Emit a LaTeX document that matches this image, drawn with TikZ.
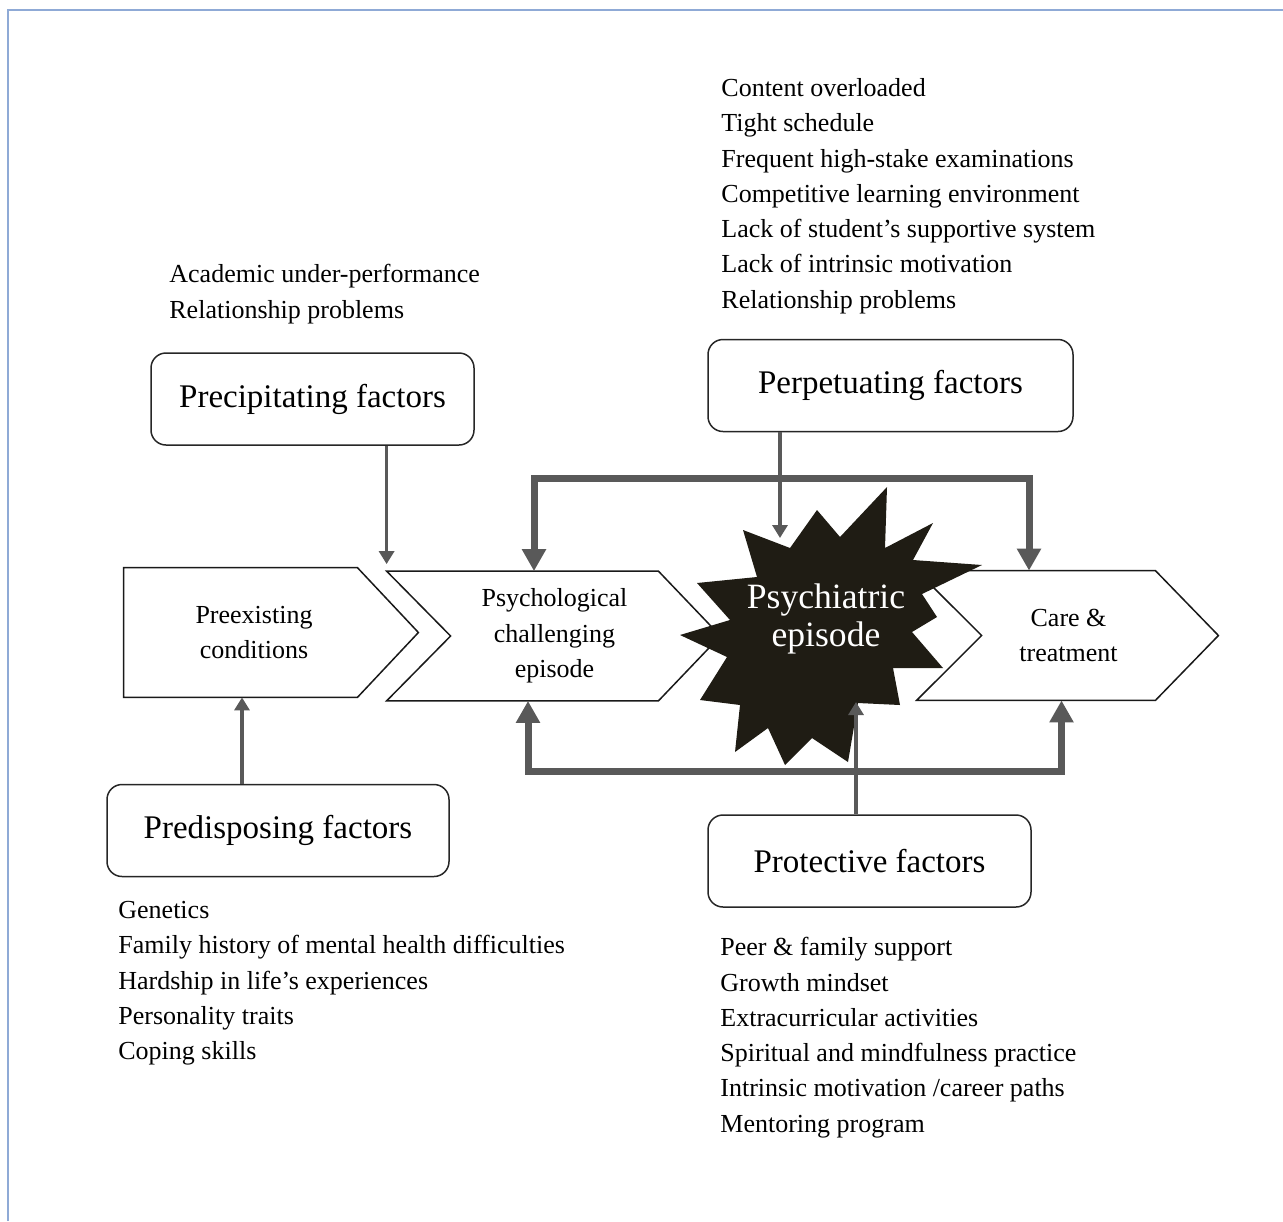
\documentclass[tikz,border=0pt]{standalone}
\usepackage{fontspec}
\setmainfont{Liberation Serif}
\usetikzlibrary{arrows.meta, positioning, calc}
\definecolor{arrowgray}{RGB}{89,89,89}
\definecolor{burstfill}{RGB}{31,28,20}
\definecolor{framecol}{RGB}{143,170,214}
\newcommand{\itemfont}{\fontsize{13}{17.65}\selectfont}
\newcommand{\boxfont}{\fontsize{16.5}{19}\selectfont}
\newcommand{\stagefont}{\fontsize{13}{17.75}\selectfont}
\newcommand{\burstfont}{\fontsize{17.8}{19}\selectfont}
\tikzset{
	factorbox/.style={rectangle, rounded corners=7.5pt, draw=black!85,
		line width=0.75pt, fill=white, minimum height=46pt, font=\boxfont},
	stagenode/.style={rectangle, inner sep=0pt, align=center,
		minimum height=64.5pt, font=\stagefont},
	chevline/.style={draw=black!90, line width=0.75pt},
	itemlist/.style={anchor=north west, align=left, inner sep=0pt,
		font=\itemfont},
	thinarrow/.style={-{Triangle[width=7.5pt,length=6.5pt]},
		draw=arrowgray, line width=1.6pt},
	looparrow/.style={{Triangle[width=11.5pt,length=11pt]}-{Triangle[width=11.5pt,length=11pt]},
		draw=arrowgray, line width=3.5pt}
}
\begin{document}
\begin{tikzpicture}[x=0.5pt, y=-0.5pt]
	\useasboundingbox (0,0) rectangle (1283,1221);
	\draw[framecol, line width=1pt] (8,1221) -- (8,10) -- (1283,10);
	
	%% factor boxes
	\node[factorbox, minimum width=161.5pt] (precip) at (312.5,399) {Precipitating factors};
	\node[factorbox, minimum width=182.5pt] (perpet) at (890.5,385.5) {Perpetuating factors};
	\node[factorbox, minimum width=171pt] (predis) at (278,830.5) {Predisposing factors};
	\node[factorbox, minimum width=161.5pt] (protect) at (869.5,861) {Protective factors};
	
	%% factor lists
	\node[itemlist] (precipitems) at (169,264) {Academic under-performance\\
		Relationship problems};
	\node[itemlist] (perpetitems) at (721,78) {Content overloaded\\
		Tight schedule\\
		Frequent high-stake examinations\\
		Competitive learning environment\\
		Lack of student’s supportive system\\
		Lack of intrinsic motivation\\
		Relationship problems};
	\node[itemlist] (predisitems) at (118,901) {Genetics\\
		Family history of mental health difficulties\\
		Hardship in life’s experiences\\
		Personality traits\\
		Coping skills};
	\node[itemlist] (protectitems) at (720,937) {Peer \& family support\\
		Growth mindset\\
		Extracurricular activities\\
		Spiritual and mindfulness practice\\
		Intrinsic motivation /career paths\\
		Mentoring program};
	
	%% stages
	\node[stagenode, minimum width=103pt] (pre) at (254,632.5) {Preexisting\\conditions};
	\node[stagenode, minimum width=103.5pt] (psych) at (554.5,636) {Psychological\\challenging\\episode};
	\node[stagenode, minimum width=86.5pt] (care) at (1068.5,635.5) {Care \&\\treatment};
	
	\draw[chevline] ([xshift=-13.5pt]pre.north west) -- (pre.north east)
	-- ([xshift=30.5pt]pre.east) -- (pre.south east)
	-- ([xshift=-13.5pt]pre.south west) -- cycle;
	\draw[chevline] ([xshift=-32pt]psych.north west) -- (psych.north east)
	-- ([xshift=31pt]psych.east) -- (psych.south east)
	-- ([xshift=-32pt]psych.south west) -- (psych.west) -- cycle;
	\draw[chevline] ([xshift=-32.5pt]care.north west) -- (care.north east)
	-- ([xshift=31.5pt]care.east) -- (care.south east)
	-- ([xshift=-32.5pt]care.south west) -- (care.west) -- cycle;
	
	%% psychiatric episode burst
	\fill[burstfill] (887,487) -- (885,548) -- (933,523) -- (913,560)
	-- (982,565) -- (922,594) -- (937,617) -- (912,632) -- (943,668)
	-- (893,668) -- (900,705) -- (858,703) -- (848,762) -- (812,738)
	-- (785,765) -- (768,728) -- (735,752) -- (740,705) -- (700,700)
	-- (727,657) -- (680,635) -- (730,620) -- (697,583) -- (757,577)
	-- (743,530) -- (790,548) -- (817,510) -- (840,537) -- cycle;
	\node[font=\burstfont, text=white, align=center] (burst) at (826,619) {Psychiatric\\episode};
	\coordinate (hittop) at (780,538);
	\coordinate (hitbot) at (856,702);
	
	%% connectors
	\draw[thinarrow] ([xshift=-32pt]psych.north west |- precip.south)
	-- ([xshift=-32pt,yshift=3.5pt]psych.north west);
	\draw[thinarrow, line width=2pt] ([xshift=-18pt]predis.north)
	-- ([xshift=-18pt]predis.north |- pre.south);
	\draw[thinarrow] (perpet.south -| hittop) -- (hittop);
	\draw[thinarrow] (protect.north -| hitbot) -- (hitbot);
	
	\draw[looparrow] ([xshift=-10.25pt]psych.north) |- ([yshift=-23pt]perpet.south)
	-| ([xshift=-19.75pt]care.north);
	\draw[looparrow] ([xshift=-13.25pt]psych.south) |- ([yshift=21.5pt]protect.north)
	-| ([xshift=-3.5pt]care.south);
\end{tikzpicture}
\end{document}
